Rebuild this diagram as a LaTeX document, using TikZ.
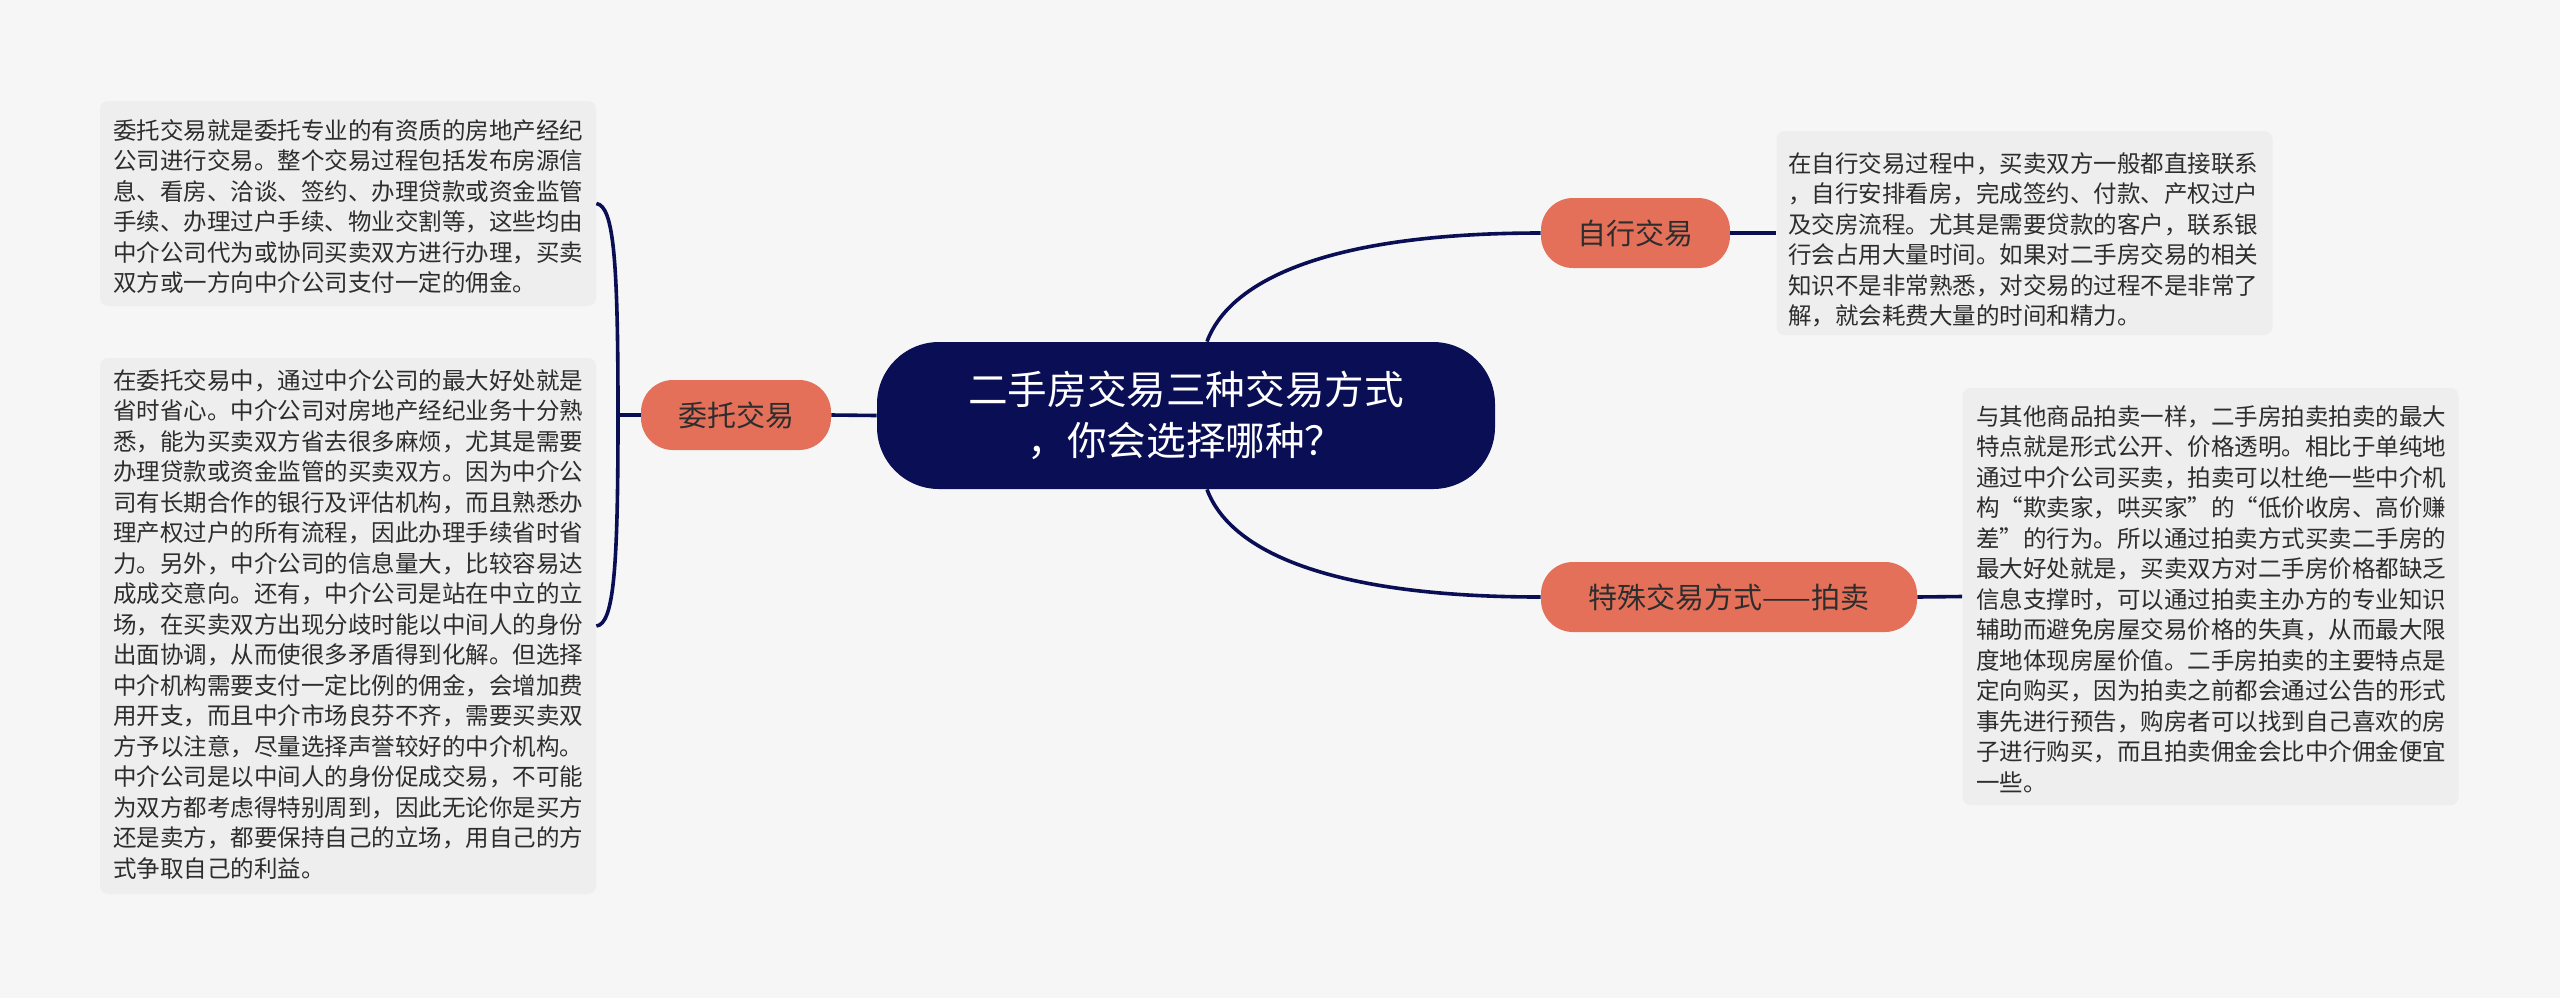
\documentclass[tikz,border=0pt]{standalone}
\usepackage{fontspec}
\setmainfont{Noto Sans CJK SC}
\usetikzlibrary{calc}
\definecolor{bgc}{RGB}{246,246,246}
\definecolor{boxc}{RGB}{238,238,238}
\definecolor{orangec}{RGB}{228,112,90}
\definecolor{navyc}{RGB}{10,14,84}
\definecolor{txtc}{RGB}{45,45,45}
\tikzset{
  conn/.style={draw=navyc,line width=1.8pt},
  txtbox/.style={fill=boxc,draw=none,rounded corners=4pt,minimum width=248pt,inner sep=0pt},
  topic/.style={fill=orangec,draw=none,rounded corners=16pt,minimum height=35pt,inner sep=0pt,text=txtc,font=\fontsize{14.5}{17}\selectfont},
  rootnode/.style={fill=navyc,draw=none,rounded corners=31pt,minimum width=309pt,minimum height=73.5pt,inner sep=0pt,text=white,align=center,font=\fontsize{19.8}{25.5}\selectfont},
  para/.style={anchor=base west,inner sep=0pt,text=txtc,font=\fontsize{11.75}{15.25}\selectfont}
}
\begin{document}
\begin{tikzpicture}[x=0.5pt,y=-0.5pt]
\useasboundingbox[fill=bgc] (0,0) rectangle (2560,998);
% text boxes
\node[txtbox,minimum height=102.5pt] (lt) at (348,203.5) {};
\node[txtbox,minimum height=268pt] (lb) at (348,626) {};
\node[txtbox,minimum height=102pt] (rt) at (2024.5,233) {};
\node[txtbox,minimum height=208.5pt] (rb) at (2210.5,596.5) {};
% main nodes
\node[rootnode] (c) at (1186,415.5) {二手房交易三种交易方式\\，你会选择哪种？};
\node[topic,minimum width=95pt] (wt) at (736,415) {委托交易};
\node[topic,minimum width=94.5pt] (zx) at (1635.5,233) {自行交易};
\node[topic,minimum width=188pt] (ts) at (1729,597) {特殊交易方式——拍卖};
% connectors
\coordinate (j) at (618,415);
\draw[conn] (c.west) -- (wt.east);
\draw[conn] (wt.west) -- (j);
\draw[conn] (j) .. controls (618,262) and (614,206) .. (lt.east);
\draw[conn] (j) .. controls (618,568) and (614,624) .. (lb.east);
\draw[conn] ([xshift=10.5pt]c.north) .. controls +(23,-62) and +(-211,0) .. (zx.west);
\draw[conn] ([xshift=10.5pt]c.south) .. controls +(23,62) and +(-211,0) .. (ts.west);
\draw[conn] (zx.east) -- (rt.west);
\draw[conn] (ts.east) -- (rb.west);
% paragraphs
\node[para] (ltt) at (113,139) {\parbox[t]{270pt}{委托交易就是委托专业的有资质的房地产经纪\\公司进行交易。整个交易过程包括发布房源信\\息、看房、洽谈、签约、办理贷款或资金监管\\手续、办理过户手续、物业交割等，这些均由\\中介公司代为或协同买卖双方进行办理，买卖\\双方或一方向中介公司支付一定的佣金。}};
\node[para] (lbt) at (113,389) {\parbox[t]{270pt}{在委托交易中，通过中介公司的最大好处就是\\省时省心。中介公司对房地产经纪业务十分熟\\悉，能为买卖双方省去很多麻烦，尤其是需要\\办理贷款或资金监管的买卖双方。因为中介公\\司有长期合作的银行及评估机构，而且熟悉办\\理产权过户的所有流程，因此办理手续省时省\\力。另外，中介公司的信息量大，比较容易达\\成成交意向。还有，中介公司是站在中立的立\\场，在买卖双方出现分歧时能以中间人的身份\\出面协调，从而使很多矛盾得到化解。但选择\\中介机构需要支付一定比例的佣金，会增加费\\用开支，而且中介市场良芬不齐，需要买卖双\\方予以注意，尽量选择声誉较好的中介机构。\\中介公司是以中间人的身份促成交易，不可能\\为双方都考虑得特别周到，因此无论你是买方\\还是卖方，都要保持自己的立场，用自己的方\\式争取自己的利益。}};
\node[para] (rtt) at (1788,172) {\parbox[t]{270pt}{在自行交易过程中，买卖双方一般都直接联系\\，自行安排看房，完成签约、付款、产权过户\\及交房流程。尤其是需要贷款的客户，联系银\\行会占用大量时间。如果对二手房交易的相关\\知识不是非常熟悉，对交易的过程不是非常了\\解，就会耗费大量的时间和精力。}};
\node[para] (rbt) at (1976,425) {\parbox[t]{270pt}{与其他商品拍卖一样，二手房拍卖拍卖的最大\\特点就是形式公开、价格透明。相比于单纯地\\通过中介公司买卖，拍卖可以杜绝一些中介机\\构“欺卖家，哄买家”的“低价收房、高价赚\\差”的行为。所以通过拍卖方式买卖二手房的\\最大好处就是，买卖双方对二手房价格都缺乏\\信息支撑时，可以通过拍卖主办方的专业知识\\辅助而避免房屋交易价格的失真，从而最大限\\度地体现房屋价值。二手房拍卖的主要特点是\\定向购买，因为拍卖之前都会通过公告的形式\\事先进行预告，购房者可以找到自己喜欢的房\\子进行购买，而且拍卖佣金会比中介佣金便宜\\一些。}};
\end{tikzpicture}
\end{document}
